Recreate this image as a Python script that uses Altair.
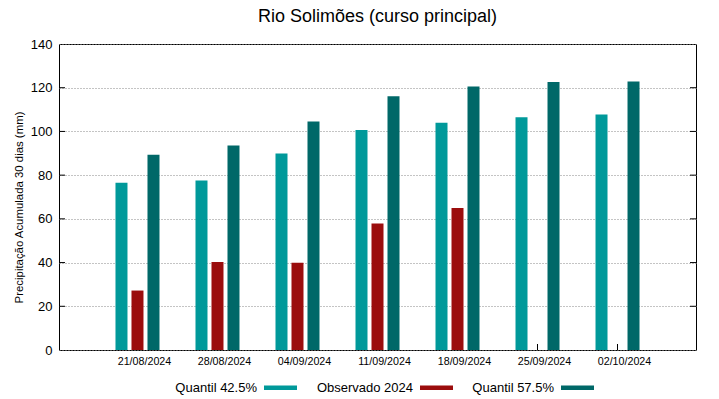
import altair as alt
import pandas as pd

dates = ["21/08/2024", "28/08/2024", "04/09/2024", "11/09/2024",
         "18/09/2024", "25/09/2024", "02/10/2024"]
q_low = [76.5, 77.5, 89.9, 100.7, 104.0, 106.5, 107.7]
observed = [27.2, 40.3, 39.9, 57.9, 65.0]
q_high = [89.3, 93.6, 104.5, 116.1, 120.5, 122.6, 122.9]
series = ["Quantil 42.5%", "Observado 2024", "Quantil 57.5%"]
colors = ["#00999a", "#9b0d0d", "#006868"]
y_ticks = [0, 20, 40, 60, 80, 100, 120, 140]
title_text = ["Rio Solimões (curso principal)"]

W, H = 637, 306
FONT = "Liberation Sans"

rows = []
for i, d in enumerate(dates):
    for s, vals in zip(series, [q_low, observed, q_high]):
        if i < len(vals):
            rows.append({"date": d, "serie": s, "valor": vals[i]})
df = pd.DataFrame(rows)
df_y = pd.DataFrame({"valor": y_ticks[1:-1]})
df_x = pd.DataFrame({"date": dates})
df_title = pd.DataFrame({"t": title_text})

x_scale = alt.Scale(domain=dates, paddingInner=0.35, paddingOuter=0.656)
y_scale = alt.Scale(domain=[0, 140], nice=False)

bars = alt.Chart(df).mark_bar(stroke=None).encode(
    x=alt.X("date:N", scale=x_scale, sort=dates,
            axis=alt.Axis(title=None, labelAngle=0, labelAlign="center", labelFontSize=10.7,
                          labelFont=FONT, labelColor="#000", labelOffset=7, labelPadding=11,
                          ticks=False, domain=False, grid=False)),
    xOffset=alt.XOffset("serie:N", sort=series,
                        scale=alt.Scale(domain=series, paddingInner=0.25, paddingOuter=0.25)),
    y=alt.Y("valor:Q", scale=y_scale,
            axis=alt.Axis(title="Precipitação Acumulada 30 dias (mm)", values=y_ticks,
                          labelFontSize=13, labelFont=FONT, labelColor="#000",
                          labelPadding=7, ticks=False, domain=False,
                          grid=True, gridDash=[1, 2], gridColor="#888", gridWidth=1,
                          titleFont=FONT, titleFontSize=11.4, titleFontWeight="normal",
                          titleColor="#000", titleX=-37, titleY=163,
                          titleBaseline="alphabetic", titleAlign="center", titleAngle=270)),
    color=alt.Color("serie:N", sort=series,
                    scale=alt.Scale(domain=series, range=colors),
                    legend=alt.Legend(title=None, orient="none", direction="horizontal",
                                      legendX=205, legendY=327,
                                      symbolType="M-1,-0.14L1,-0.14L1,0.14L-1,0.14Z",
                                      symbolSize=1089, symbolStrokeWidth=0,
                                      labelAlign="right", labelOffset={"expr": "-40"},
                                      labelFontSize=13, labelFont=FONT, labelColor="#000",
                                      columnPadding=19)),
)

left_ticks = alt.Chart(df_y).mark_rule(color="#000", strokeWidth=1).encode(
    y=alt.Y("valor:Q", scale=y_scale), x=alt.value(0), x2=alt.value(6))
right_ticks = alt.Chart(df_y).mark_rule(color="#000", strokeWidth=1).encode(
    y=alt.Y("valor:Q", scale=y_scale), x=alt.value(W - 6), x2=alt.value(W))
x_ticks = alt.Chart(df_x).mark_rule(color="#000", strokeWidth=1).encode(
    x=alt.X("date:N", scale=x_scale, sort=dates), y=alt.value(H), y2=alt.value(H - 6))
title = alt.Chart(df_title).mark_text(
    font=FONT, fontSize=18, color="#000", align="center", baseline="alphabetic"
).encode(text="t:N", x=alt.value(W / 2), y=alt.value(-22))

chart = alt.layer(x_ticks, bars, left_ticks, right_ticks, title).properties(
    width=W, height=H,
    autosize=alt.AutoSizeParams(type="none"),
    padding={"left": 51, "top": 36, "right": 15, "bottom": 48},
).configure_view(stroke="#000", strokeWidth=1)

chart.save("out.html", embed_options={"renderer": "svg", "actions": False})
